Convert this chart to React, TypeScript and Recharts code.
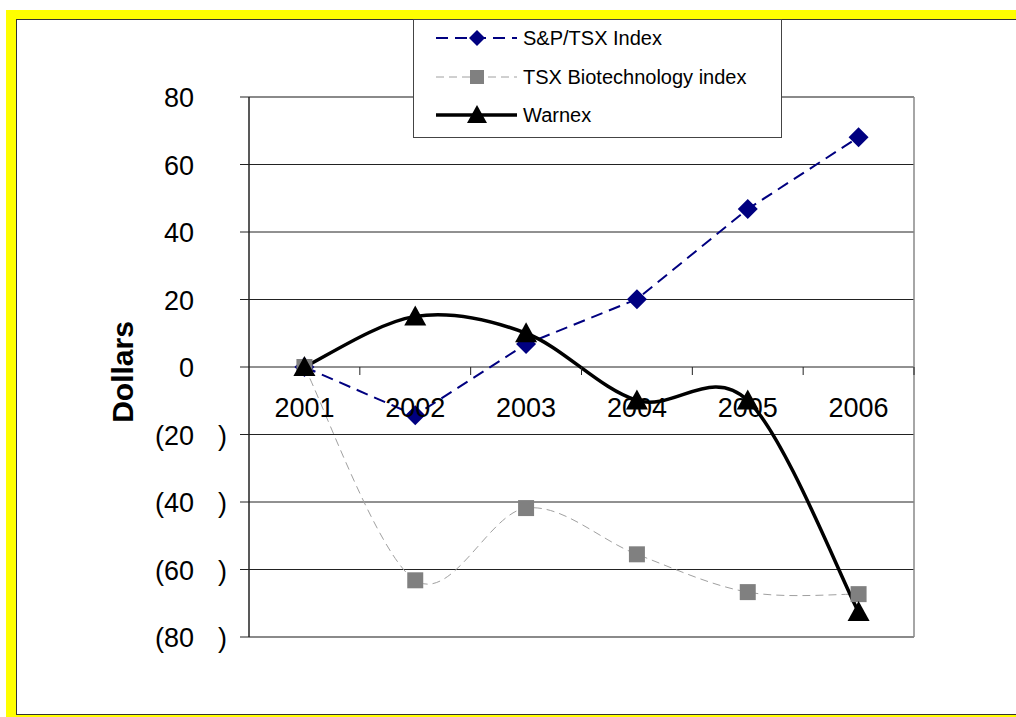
import React from "react";
import { LineChart, Line, XAxis, YAxis, CartesianGrid } from "recharts";

// chart data
const years = ["2001", "2002", "2003", "2004", "2005", "2006"];
const spTsx = [0, -14.3, 6.8, 20.1, 46.8, 68.1];
const biotech = [0, -63.2, -41.8, -55.5, -66.7, -67.3];
const warnex = [0, 15, 10, -9.9, -9.9, -72.6];
const yTicks = [-80, -60, -40, -20, 0, 20, 40, 60, 80];
const seriesNames = ["S&P/TSX Index", "TSX Biotechnology index", "Warnex"];

const data = years.map((year, i) => ({
  year,
  sp: spTsx[i],
  bio: biotech[i],
  warnex: warnex[i],
}));

const W = 1016;
const H = 717;
const PLOT = { left: 249, top: 97, right: 914, bottom: 637 };
const Y_AXIS_W = 60;
const FONT = "Arial, 'Liberation Sans', sans-serif";
const Y_MIN = yTicks[0];
const Y_MAX = yTicks[yTicks.length - 1];
const ZERO_Y = PLOT.top + ((Y_MAX - 0) / (Y_MAX - Y_MIN)) * (PLOT.bottom - PLOT.top);
const BAND = (PLOT.right - PLOT.left) / years.length;

// Excel-style smoothed line (Catmull-Rom as bezier)
function excelSmooth(context: any) {
  let pts: number[][] = [];
  return {
    areaStart() {},
    areaEnd() {},
    lineStart() {
      pts = [];
    },
    point(x: number, y: number) {
      pts.push([+x, +y]);
    },
    lineEnd() {
      const n = pts.length;
      if (!n) return;
      context.moveTo(pts[0][0], pts[0][1]);
      for (let i = 0; i < n - 1; i++) {
        const p0 = pts[Math.max(i - 1, 0)];
        const p1 = pts[i];
        const p2 = pts[i + 1];
        const p3 = pts[Math.min(i + 2, n - 1)];
        context.bezierCurveTo(
          p1[0] + (p2[0] - p0[0]) / 6,
          p1[1] + (p2[1] - p0[1]) / 6,
          p2[0] - (p3[0] - p1[0]) / 6,
          p2[1] - (p3[1] - p1[1]) / 6,
          p2[0],
          p2[1]
        );
      }
    },
  };
}

const diamond = (cx: number, cy: number, r = 10) =>
  `M${cx},${cy - r}L${cx + r},${cy}L${cx},${cy + r}L${cx - r},${cy}Z`;
const square = (cx: number, cy: number, s = 8) =>
  `M${cx - s},${cy - s}H${cx + s}V${cy + s}H${cx - s}Z`;
const triangle = (cx: number, cy: number) =>
  `M${cx},${cy - 11}L${cx + 11},${cy + 9}L${cx - 11},${cy + 9}Z`;

const DiamondDot = (p: any) => <path key={p.index} d={diamond(p.cx, p.cy)} fill="#000080" />;
const SquareDot = (p: any) => <path key={p.index} d={square(p.cx, p.cy)} fill="#808080" />;
const TriangleDot = (p: any) => <path key={p.index} d={triangle(p.cx, p.cy)} fill="#000" />;

function YTick({ y, payload }: any) {
  const v = payload.value as number;
  const numEnd = PLOT.left - 55;
  if (v < 0) {
    return (
      <g fontFamily={FONT} fontSize={27} fill="#000">
        <text x={numEnd} y={y + 10} textAnchor="end">{`(${-v}`}</text>
        <text x={PLOT.left - 22} y={y + 10} textAnchor="end">)</text>
      </g>
    );
  }
  return (
    <text x={numEnd} y={y + 10} textAnchor="end" fontFamily={FONT} fontSize={27} fill="#000">
      {v}
    </text>
  );
}

function XTick({ x, index, payload }: any) {
  const last = index === years.length - 1;
  return (
    <g>
      {index > 0 && (
        <line x1={x - BAND / 2} x2={x - BAND / 2} y1={ZERO_Y} y2={ZERO_Y + 8} stroke="#222" />
      )}
      {last && <line x1={x + BAND / 2} x2={x + BAND / 2} y1={ZERO_Y} y2={ZERO_Y + 8} stroke="#222" />}
      <text x={x} y={ZERO_Y + 50} textAnchor="middle" fontFamily={FONT} fontSize={27} fill="#000">
        {payload.value}
      </text>
    </g>
  );
}

function LegendBox() {
  const rows = [
    { stroke: "#000080", width: 2, dash: "12 7", mark: diamond(64, 19, 8), fill: "#000080" },
    { stroke: "#a0a0a0", width: 1, dash: "8 5", mark: square(64, 58, 7), fill: "#808080" },
    { stroke: "#000", width: 3.5, dash: undefined, mark: "M64,86L74,104L54,104Z", fill: "#000" },
  ];
  const rowY = [19, 58, 96];
  return (
    <svg
      width={369}
      height={119}
      style={{ position: "absolute", left: 413, top: 19, background: "#fff" }}
    >
      <rect x={0.5} y={0.5} width={368} height={118} fill="#fff" stroke="#444" />
      {rows.map((r, i) => (
        <g key={seriesNames[i]}>
          <line
            x1={23}
            x2={104}
            y1={rowY[i]}
            y2={rowY[i]}
            stroke={r.stroke}
            strokeWidth={r.width}
            strokeDasharray={r.dash}
          />
          <path d={r.mark} fill={r.fill} />
          <text x={110} y={rowY[i] + 7} fontFamily={FONT} fontSize={20} fill="#000">
            {seriesNames[i]}
          </text>
        </g>
      ))}
    </svg>
  );
}

export default function App() {
  return (
    <div
      style={{
        position: "absolute",
        left: 0,
        top: 0,
        width: W,
        height: H,
        overflow: "hidden",
        background: "#fff",
      }}
    >
      <div style={{ position: "absolute", left: 6, top: 10, width: 1100, height: 730, background: "#ffff00" }} />
      <div
        style={{
          position: "absolute",
          left: 16,
          top: 19,
          width: 1100,
          height: 696,
          boxSizing: "border-box",
          border: "1px solid #333",
          background: "#fff",
        }}
      />
      <div style={{ position: "absolute", left: 0, top: 0 }}>
        <LineChart
          width={W}
          height={H}
          data={data}
          margin={{
            top: PLOT.top,
            left: PLOT.left - Y_AXIS_W,
            right: W - PLOT.right,
            bottom: H - PLOT.bottom - 1,
          }}
        >
          <CartesianGrid vertical={false} stroke="#222" />
          {/* gray plot-area border */}
          <CartesianGrid
            stroke="#888"
            strokeWidth={1.5}
            horizontalCoordinatesGenerator={({ offset }: any) => [offset.top, offset.top + offset.height]}
            verticalCoordinatesGenerator={({ offset }: any) => [offset.left + offset.width]}
          />
          <XAxis
            dataKey="year"
            height={1}
            interval={0}
            padding={{ left: BAND / 2, right: BAND / 2 }}
            axisLine={false}
            tickLine={false}
            tick={<XTick />}
          />
          <YAxis
            width={Y_AXIS_W}
            domain={[Y_MIN, Y_MAX]}
            ticks={yTicks}
            interval={0}
            tickSize={9}
            axisLine={{ stroke: "#222", strokeWidth: 1.5 }}
            tickLine={{ stroke: "#222" }}
            tick={<YTick />}
          />
          <Line
            dataKey="sp"
            type="linear"
            stroke="#000080"
            strokeWidth={2}
            strokeDasharray="12 7"
            dot={DiamondDot}
            activeDot={false}
            isAnimationActive={false}
          />
          <Line
            dataKey="bio"
            type={excelSmooth as any}
            stroke="#a0a0a0"
            strokeWidth={1}
            strokeDasharray="8 5"
            dot={SquareDot}
            activeDot={false}
            isAnimationActive={false}
          />
          <Line
            dataKey="warnex"
            type={excelSmooth as any}
            stroke="#000"
            strokeWidth={3.5}
            dot={TriangleDot}
            activeDot={false}
            isAnimationActive={false}
          />
        </LineChart>
      </div>
      <LegendBox />
      <div
        style={{
          position: "absolute",
          left: 123,
          top: 372,
          transform: "translate(-50%, -50%) rotate(-90deg)",
          fontFamily: FONT,
          fontSize: 30,
          fontWeight: "bold",
          whiteSpace: "nowrap",
        }}
      >
        Dollars
      </div>
    </div>
  );
}
